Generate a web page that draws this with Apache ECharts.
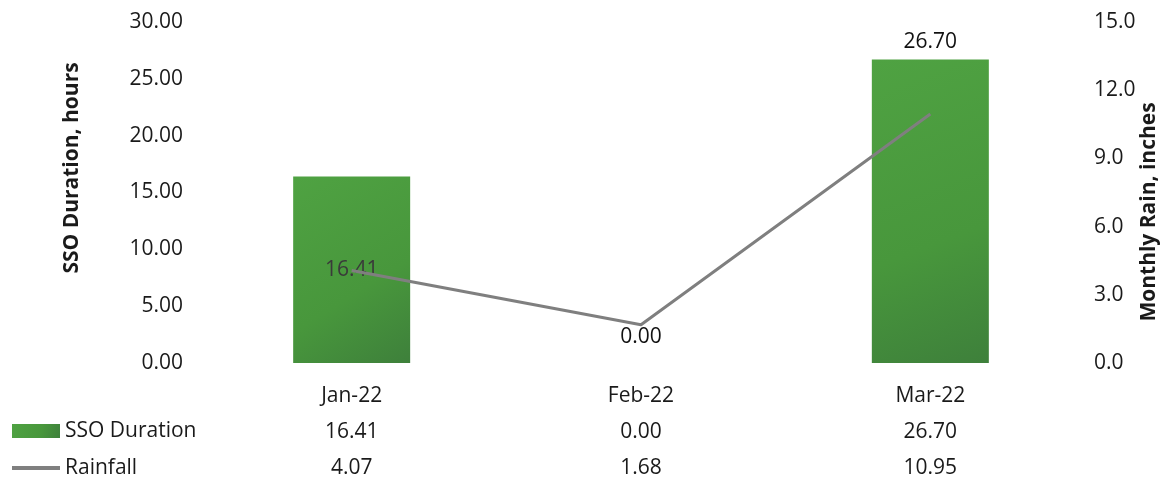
<!DOCTYPE html>
<html>
<head>
<meta charset="utf-8">
<script src="https://cdn.jsdelivr.net/npm/echarts@6/dist/echarts.min.js"></script>
<style>
html,body{margin:0;padding:0;background:#fff;}
#chart{width:1169px;height:485px;}
</style>
</head>
<body>
<div id="chart"></div>
<script>
const categories = ['Jan-22', 'Feb-22', 'Mar-22'];
const ssoDuration = [16.41, 0.00, 26.70];
const rainfall = [4.07, 1.68, 10.95];
const leftTicks = [0, 5, 10, 15, 20, 25, 30];
const rightTicks = [0, 3, 6, 9, 12, 15];

const FONT = '"Open Sans", "Noto Sans", sans-serif';
const TXT = '#1a1a1a';
const FS = 21;

const chart = echarts.init(document.getElementById('chart'), null, {renderer: 'canvas'});

const barLabelPos = ['inside', 'top', 'top'];
const barLabelDist = [0, 15, 7];
const barLabelColor = ['#3a3a3a', '#111', '#111'];

const tableLabel = {margin: 23, fontSize: FS, color: TXT, fontFamily: FONT};

const option = {
  backgroundColor: '#fff',
  animation: false,
  textStyle: {fontFamily: FONT},
  grid: {left: 207, right: 94, top: 22, bottom: 122, containLabel: false},
  legend: {
    orient: 'vertical',
    left: 5,
    top: 415,
    height: 80,
    itemWidth: 48,
    itemHeight: 14,
    itemGap: 15,
    textStyle: {fontFamily: FONT, fontSize: FS, color: TXT, lineHeight: 22},
    data: [
      {name: 'SSO Duration', icon: 'rect'},
      {name: 'Rainfall', itemStyle: {opacity: 0}, lineStyle: {width: 4, color: '#7f7f7f'}}
    ]
  },
  xAxis: [
    {
      type: 'category', data: categories, gridIndex: 0, position: 'bottom',
      axisLine: {show: false}, axisTick: {show: false},
      axisLabel: tableLabel
    },
    {
      type: 'category', data: ssoDuration.map(v => v.toFixed(2)), gridIndex: 0, position: 'bottom', offset: 36,
      axisLine: {show: false}, axisTick: {show: false}, splitLine: {show: false},
      axisLabel: tableLabel
    },
    {
      type: 'category', data: rainfall.map(v => v.toFixed(2)), gridIndex: 0, position: 'bottom', offset: 72,
      axisLine: {show: false}, axisTick: {show: false}, splitLine: {show: false},
      axisLabel: tableLabel
    }
  ],
  yAxis: [
    {
      type: 'value', min: leftTicks[0], max: leftTicks[leftTicks.length - 1], interval: leftTicks[1] - leftTicks[0],
      axisLine: {show: false}, axisTick: {show: false}, splitLine: {show: false},
      axisLabel: {margin: 24, fontSize: FS, color: TXT, fontFamily: FONT, formatter: v => v.toFixed(2)}
    },
    {
      type: 'value', position: 'right', min: rightTicks[0], max: rightTicks[rightTicks.length - 1], interval: rightTicks[1] - rightTicks[0],
      axisLine: {show: false}, axisTick: {show: false}, splitLine: {show: false},
      axisLabel: {margin: 19, fontSize: FS, color: TXT, fontFamily: FONT, formatter: v => v.toFixed(1)}
    }
  ],
  series: [
    {
      name: 'SSO Duration',
      type: 'bar',
      xAxisIndex: 0, yAxisIndex: 0,
      barWidth: 117,
      itemStyle: {
        color: new echarts.graphic.LinearGradient(0, 0, 1, 1, [
          {offset: 0, color: '#4fa242'},
          {offset: 0.6, color: '#48973c'},
          {offset: 1, color: '#3e803b'}
        ])
      },
      data: ssoDuration.map((v, i) => ({
        value: v,
        label: {
          show: true,
          position: barLabelPos[i],
          distance: barLabelDist[i],
          color: barLabelColor[i],
          fontSize: FS,
          fontFamily: FONT,
          formatter: p => p.value.toFixed(2)
        }
      })),
      z: 2
    },
    {
      name: 'Rainfall',
      type: 'line',
      xAxisIndex: 0, yAxisIndex: 1,
      data: rainfall,
      symbol: 'none',
      showSymbol: false,
      lineStyle: {color: '#7f7f7f', width: 3},
      itemStyle: {color: '#7f7f7f'},
      z: 2
    }
  ],
  graphic: [
    {
      type: 'text', x: 72, y: 168, rotation: Math.PI / 2,
      style: {text: 'SSO Duration, hours', font: 'bold 21px ' + FONT, fill: TXT, textAlign: 'center', textVerticalAlign: 'middle'}
    },
    {
      type: 'text', x: 1149, y: 212, rotation: Math.PI / 2,
      style: {text: 'Monthly Rain, inches', font: 'bold 21px ' + FONT, fill: TXT, textAlign: 'center', textVerticalAlign: 'middle'}
    }
  ]
};
chart.setOption(option);
</script>
</body>
</html>
